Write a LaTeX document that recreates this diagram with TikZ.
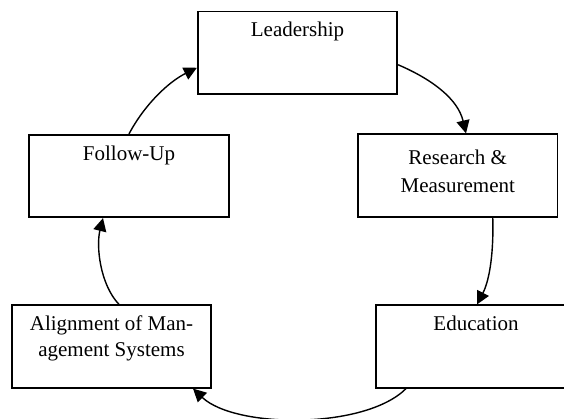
\documentclass[tikz,border=0pt]{standalone}
\usepackage{fontspec}
\setmainfont{Liberation Serif}
\usetikzlibrary{arrows.meta}
\begin{document}
\begin{tikzpicture}[x=1pt,y=-1pt,
  box/.style={draw,line width=1.7pt,rectangle,minimum width=199.5pt,minimum height=82.5pt,inner sep=0pt},
  txt/.style={anchor=base,inner sep=0pt,font=\fontsize{21}{27}\selectfont},
  arr/.style={line width=1.4pt,-{Triangle[length=13pt,width=13pt]}}]
\useasboundingbox (0,0) rectangle (564,418);
\clip (0,0) rectangle (564,418);
\node[box] (lead) at (297.5,52.75) {};
\node[box] (res) at (457.75,175.5) {};
\node[box] (edu) at (476,346.5) {};
\node[box] (ali) at (111.5,346.5) {};
\node[box] (fu) at (129,176) {};
\node[txt] (leadT) at ([yshift=-25.5pt]lead.north) {Leadership};
\node[txt] (resT1) at ([yshift=-31pt]res.north) {Research \&};
\node[txt] (resT2) at ([yshift=-59.3pt]res.north) {Measurement};
\node[txt] (eduT) at ([yshift=-25.7pt]edu.north) {Education};
\node[txt] (aliT1) at ([yshift=-25.7pt]ali.north) {Alignment of Man-};
\node[txt] (aliT2) at ([yshift=-52.4pt]ali.north) {agement Systems};
\node[txt] (fuT) at ([yshift=-26.7pt]fu.north) {Follow-Up};
\draw[arr] ([yshift=-12pt]lead.east) .. controls +(35,15) and +(-8,-34) .. ([xshift=8.25pt]res.north);
\draw[arr] ([xshift=35pt]res.south) .. controls +(1,33) and +(13,-25) .. ([xshift=1pt]edu.north);
\draw[arr] ([xshift=-70pt]edu.south) .. controls +(-41,41) and +(42,40) .. ([xshift=81.5pt]ali.south);
\draw[arr] ([xshift=7.5pt]ali.north) .. controls +(-19,-20) and +(-7,28) .. ([xshift=-26pt]fu.south);
\draw[arr] (fu.north) .. controls +(16,-30) and +(-28,14) .. ([yshift=-15pt]lead.west);
\end{tikzpicture}
\end{document}
